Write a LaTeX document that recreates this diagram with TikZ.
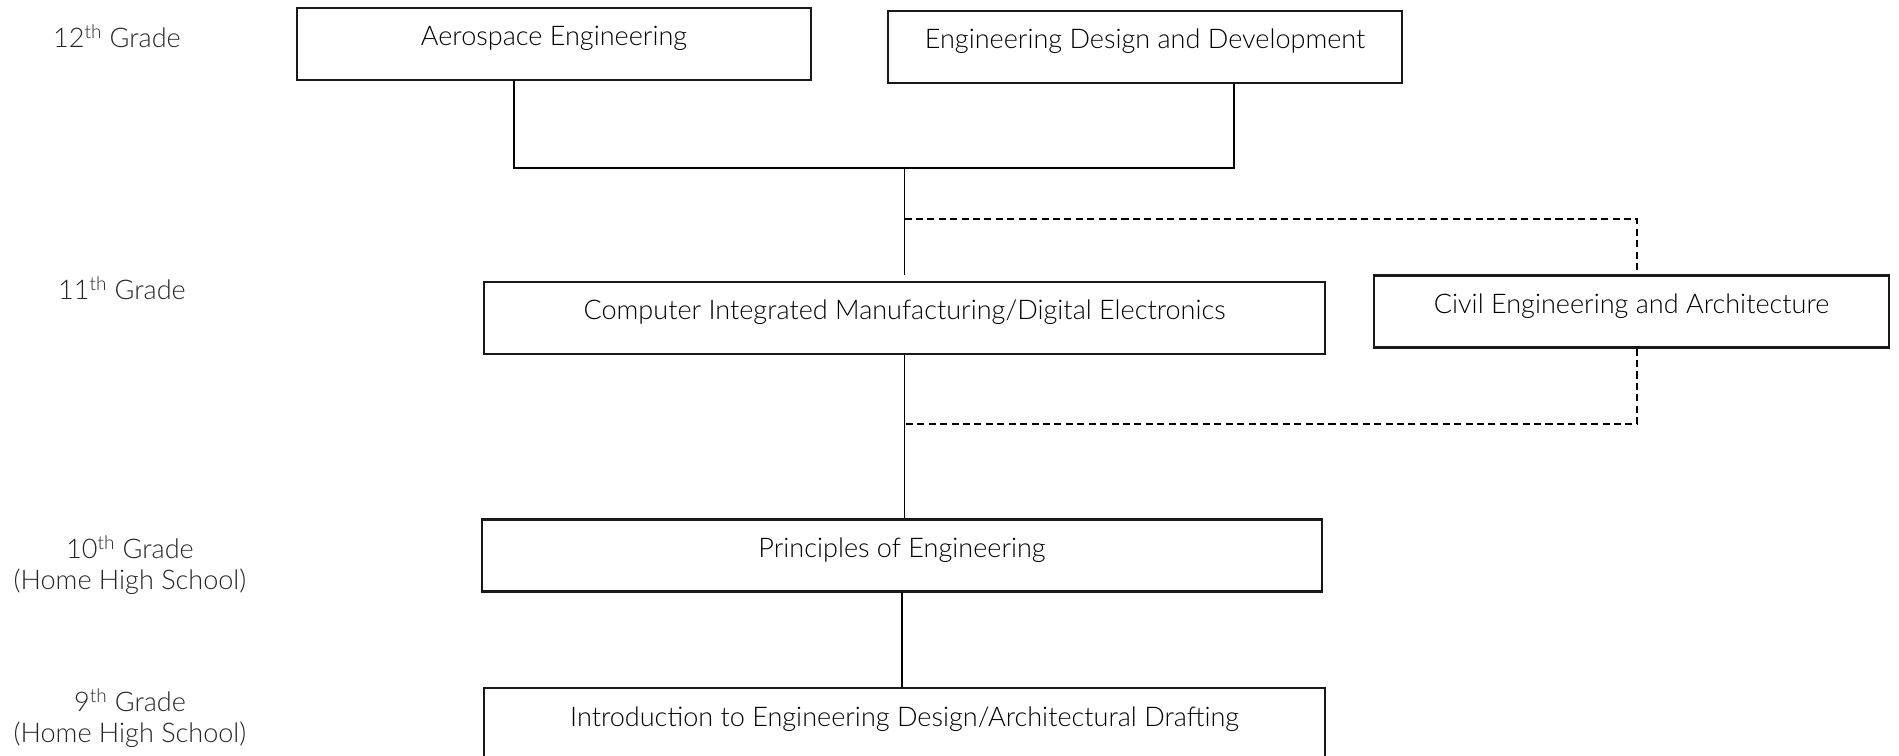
\documentclass[tikz,border=0pt]{standalone}
\usepackage{fontspec}
\setmainfont{Lato}[UprightFont=* Light]
\usetikzlibrary{positioning,calc}

\begin{document}
\begin{tikzpicture}[
  x=0.02cm, y=-0.02cm,
  course/.style={draw=black!90, line width=1.3pt, inner sep=0pt,
                 font=\fontsize{15.4}{18}\selectfont,
                 text height=0.76cm, text depth=0.68cm, minimum width=#1},
  grade/.style={font=\fontsize{15.4}{17.6}\selectfont, align=center, text=black!85},
  link/.style={black, line width=1pt},
  opt/.style={black, line width=1pt, dash pattern=on 4pt off 2.5pt},
]
\useasboundingbox (0,0) rectangle (1899,756);

%% Grade labels down the left
\node[grade] (g12) at (117,36)  {12\textsuperscript{th} Grade};
\node[grade] (g11) at (122,288) {11\textsuperscript{th} Grade};
\node[grade] (g10) at (130,565) {10\textsuperscript{th} Grade\\(Home High School)};
\node[grade] (g9)  at (130,718) {9\textsuperscript{th} Grade\\(Home High School)};

%% Courses
\node[course=10.28cm] (aero)  at (554,44)    {Aerospace Engineering};
\node[course=10.28cm] (edd)   at (1145,47)   {Engineering Design and Development};
\node[course=16.82cm] (cim)   at (904.5,318) {Computer Integrated Manufacturing/Digital Electronics};
\node[course=10.3cm]  (cea)   at (1631.5,311.5) {Civil Engineering and Architecture};
\node[course=16.8cm]  (poe)   at (902,555.5) {Principles of Engineering};
\node[course=16.82cm] (intro) at (904.5,724) {Introduction to Engineering Design/Architectural Drafting};

%% 12th grade join
\coordinate (jl) at (514,168);
\coordinate (jr) at (1234,168);
\draw[link] (jl |- aero.south) -- (jl) -- (jr) -- (jr |- edd.south);
\draw[link, shorten >=0.12cm] (cim.north |- jl) -- (cim.north);

%% Optional path through civil engineering
\coordinate (dx) at (1637,219);
\draw[opt] (cim.north |- dx) -- (dx) -- (dx |- cea.north);
\draw[opt] (dx |- cea.south) |- (cim.south |- 0,424);

%% Lower grades
\draw[link] (cim.south) -- (cim.south |- poe.north);
\draw[link] (poe.south) -- (poe.south |- intro.north);

\end{tikzpicture}
\end{document}
